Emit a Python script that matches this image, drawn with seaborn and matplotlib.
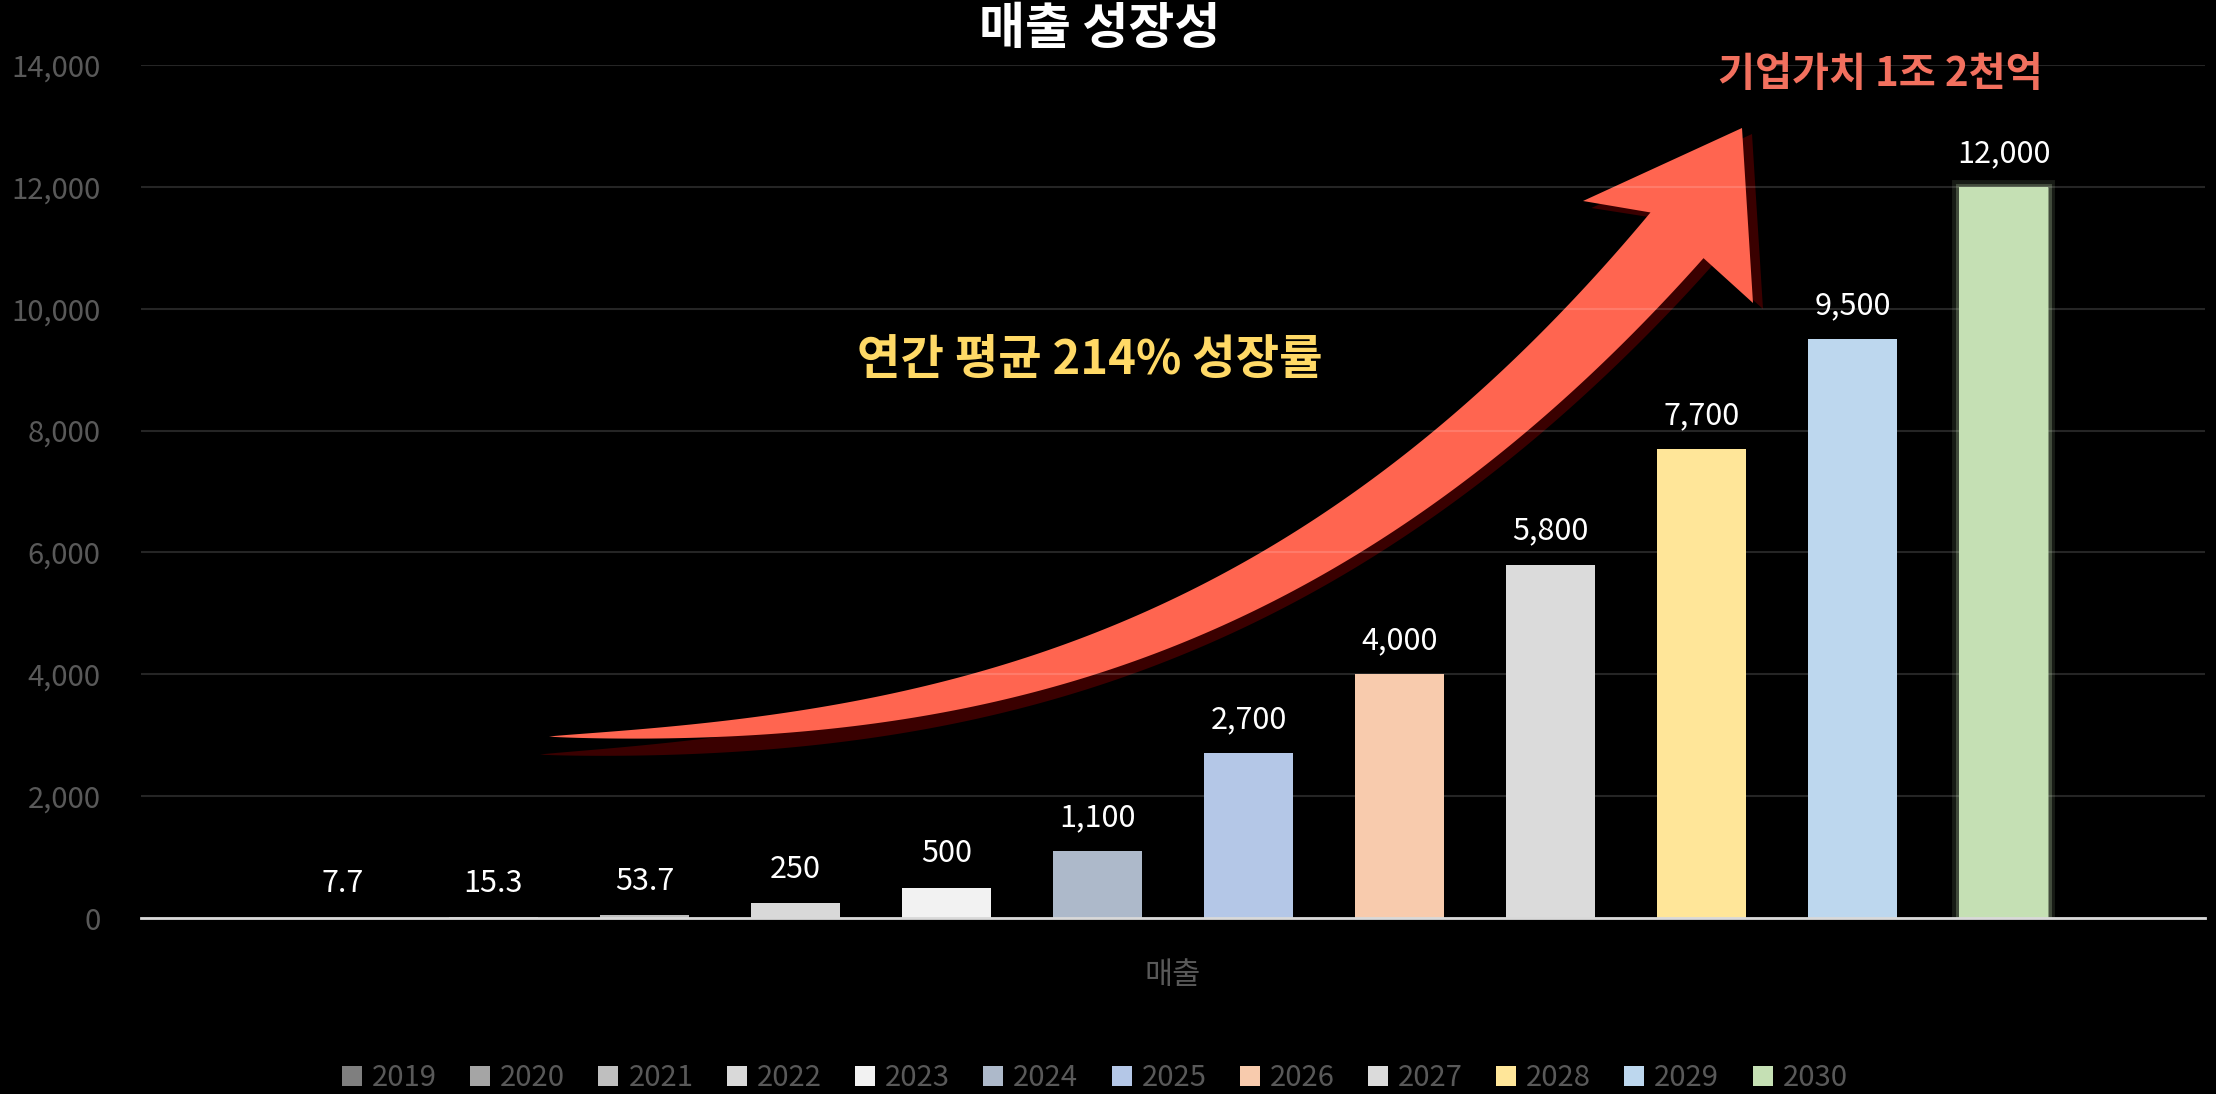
import numpy as np
import pandas as pd
import seaborn as sns
import matplotlib
matplotlib.use("Agg")
from matplotlib import pyplot as plt
from matplotlib.patches import Polygon
import matplotlib.patheffects as pe

# data
years = ["2019", "2020", "2021", "2022", "2023", "2024",
         "2025", "2026", "2027", "2028", "2029", "2030"]
sales = [7.7, 15.3, 53.7, 250, 500, 1100, 2700, 4000, 5800, 7700, 9500, 12000]
colors = ["#7f7f7f", "#a5a5a5", "#bfbfbf", "#d9d9d9", "#f2f2f2", "#adb9ca",
          "#b4c7e7", "#f8cbad", "#dbdbdb", "#ffe699", "#bdd7ee", "#c5e0b4"]
category = "매출"
title = "매출 성장성"
growth_note = "연간 평균 214% 성장률"
value_note = "기업가치 1조 2천억"

W, H = 2216, 1094

sns.set_style("dark")
plt.rcParams['font.family'] = ['Noto Sans CJK KR', 'DejaVu Sans']


def fmt(v):
    return "{:,.0f}".format(v) if float(v).is_integer() else "{:,.1f}".format(v)


def px(x, y):
    # image pixels (y down) -> figure fraction
    return np.column_stack([np.asarray(x) / W, 1 - np.asarray(y) / H])


fig = plt.figure(figsize=(W / 100, H / 100), dpi=100, facecolor="black")
ax = fig.add_axes([141 / W, 1 - 918 / H, (2205 - 141) / W, (918 - 65) / H])
ax.set_facecolor("black")

df = pd.DataFrame({"구분": category, "연도": years, "매출": sales})
sns.barplot(data=df, x="구분", y="매출", hue="연도", hue_order=years,
            palette=colors, saturation=1, width=0.878, gap=0.41,
            ax=ax, legend=True, zorder=2, linewidth=0, edgecolor="none")

for cont, v in zip(ax.containers, sales):
    ax.bar_label(cont, labels=[fmt(v)], padding=13, color="white", fontsize=22)

# soft glow on the last bar
for bar in ax.containers[-1]:
    bar.set_path_effects([
        pe.Stroke(linewidth=10, foreground=(0.77, 0.88, 0.70, 0.12)),
        pe.Stroke(linewidth=5, foreground=(0.77, 0.88, 0.70, 0.25)),
        pe.Normal()])

ax.set_xlim(-0.5, 0.5)
ax.set_ylim(0, 14000)
ax.set_yticks(range(0, 14001, 2000))
ax.yaxis.set_major_formatter(matplotlib.ticker.StrMethodFormatter("{x:,.0f}"))
ax.yaxis.grid(True, color="white", alpha=0.15, lw=1.5)
ax.xaxis.grid(False)
ax.set_axisbelow(True)
for s in ["left", "right", "top"]:
    ax.spines[s].set_visible(False)
ax.spines["bottom"].set_color("#d9d9d9")
ax.spines["bottom"].set_linewidth(2)
ax.tick_params(axis="y", length=0, pad=29, labelsize=21, labelcolor="#595959")
ax.tick_params(axis="x", length=0, pad=30, labelsize=22, labelcolor="#595959")
ax.set_xlabel("")
ax.set_ylabel("")

# legend at the bottom
handles, labels = ax.get_legend_handles_labels()
ax.get_legend().remove()
fig.legend(handles, labels, loc="center", bbox_to_anchor=(0.494, 0.0146),
           ncol=12, frameon=False, fontsize=21, labelcolor="#595959",
           handlelength=0.69, handleheight=0.69, handletextpad=0.34,
           columnspacing=1.14)

# curved growth arrow
cx = [549, 800, 1000, 1100, 1276, 1420, 1550, 1677]
cy = [739, 712, 690, 655, 575, 470, 370, 237]
poly = np.polyfit(cx, cy, 3)
dpoly = np.polyder(poly)
xs = np.linspace(549, 1677, 200)
ys = np.polyval(poly, xs)
tx = np.ones_like(xs)
ty = np.polyval(dpoly, xs)
nrm = np.hypot(tx, ty)
tx, ty = tx / nrm, ty / nrm
nx, ny = ty, -tx
u = (xs - 549) / (1677 - 549)
w = 70 * u ** 0.8
ux, uy = xs + nx * w / 2, ys + ny * w / 2
lx, ly = xs - nx * w / 2, ys - ny * w / 2
head_x = [1583, 1742, 1753]
head_y = [201, 128, 303]
ox = np.concatenate([ux, head_x, lx[::-1]])
oy = np.concatenate([uy, head_y, ly[::-1]])

uu = np.clip((ox - 549) / (1677 - 549), 0, 1)
sx = ox - 9 + 19 * uu
sy = oy + 18 - 12 * uu
ax.add_artist(Polygon(px(sx, sy), closed=True, transform=fig.transFigure,
                      facecolor="#3a0000", edgecolor="none", zorder=0.2, clip_on=False))
ax.add_artist(Polygon(px(ox, oy), closed=True, transform=fig.transFigure,
                      facecolor="#ff6550", edgecolor="none", zorder=0.3, clip_on=False))

# texts
fig.text(1100 / W, 1 - 29 / H, title, ha="center", va="center",
         color="white", fontsize=36, fontweight="bold")
fig.text(1090 / W, 1 - 360 / H, growth_note, ha="center", va="center",
         color="#ffd966", fontsize=34, fontweight="bold")
fig.text(1880 / W, 1 - 75 / H, value_note, ha="center", va="center",
         color="#f2705e", fontsize=29, fontweight="bold")

fig.savefig("out.png", dpi=100, facecolor="black")
